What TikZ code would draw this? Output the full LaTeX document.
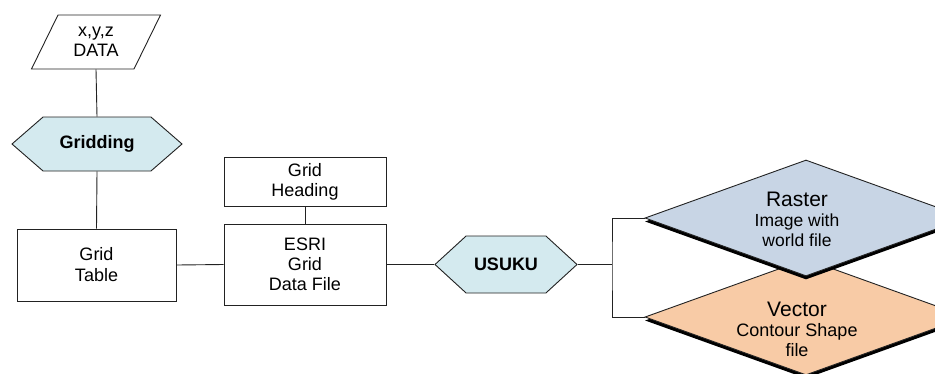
\documentclass[tikz,border=0pt]{standalone}
\usepackage{fontspec}
\setmainfont{Liberation Sans}
\usetikzlibrary{shapes.geometric,shapes.symbols,shadows}
\definecolor{hexfill}{HTML}{D4EAEF}
\definecolor{rasterfill}{HTML}{C8D5E5}
\definecolor{vectorfill}{HTML}{F8CBA6}
\definecolor{edge}{HTML}{222222}
\begin{document}
\begin{tikzpicture}[x=1pt,y=-1pt,
  base/.style={draw=edge, line width=0.9pt, align=center, inner sep=0pt, font=\fontsize{18}{21}\selectfont},
  box/.style={base, rectangle},
  hexa/.style={base, signal, signal to=west and east, fill=hexfill, font=\fontsize{18}{21}\selectfont\bfseries},
  dia/.style={base, diamond, aspect=2.78, minimum width=322pt, minimum height=116pt,
    drop shadow={shadow xshift=0pt, shadow yshift=-3.5pt, fill=black, opacity=1}},
  lbl/.style={align=center, inner sep=0pt, font=\fontsize{21}{20}\selectfont},
  wire/.style={draw=edge, line width=0.9pt}
]
\useasboundingbox (0,0) rectangle (935,373);
\clip (0,0) rectangle (935,373);
\fill[white] (0,0) rectangle (935,373);

% left column
\node[base, trapezium, trapezium left angle=61.8, trapezium right angle=118.2,
      trapezium stretches=true, minimum width=130pt, minimum height=54pt,
      font=\fontsize{18}{20}\selectfont] (data) at (96,42) {x,y,z\\DATA};
\node[hexa, signal pointer angle=82, minimum width=170pt, minimum height=54pt] (grid) at (97,144) {Gridding};
\node[box, minimum width=159pt, minimum height=72pt] (table) at (96.5,265) {Grid\\Table};

% middle column
\node[box, minimum width=162pt, minimum height=49pt, font=\fontsize{18}{20}\selectfont] (heading) at (305,181.5) {Grid\\Heading};
\node[box, minimum width=162pt, minimum height=81pt, font=\fontsize{18}{20}\selectfont] (esri) at (305,264.5) {ESRI\\Grid\\Data File};

% USUKU
\node[hexa, signal pointer angle=85, minimum width=142pt, minimum height=57pt] (usuku) at (506,264.5) {USUKU};

% outputs
\node[dia, fill=vectorfill] (vector) at (806,317) {};
\node[dia, fill=rasterfill] (raster) at (806,218) {};
\node[lbl] (rastertxt) at (797,219.5) {Raster\\{\fontsize{17.5}{20}\selectfont Image with}\\{\fontsize{17.5}{20}\selectfont world file}};
\node[lbl] (vectortxt) at (797,329) {Vector\\{\fontsize{18}{20}\selectfont Contour Shape}\\{\fontsize{18}{20}\selectfont file}};

% connectors
\draw[wire] (data.south) -- (grid.north);
\draw[wire] (grid.south) -- (table.north);
\draw[wire] (table.east) -- (esri.west);
\draw[wire] (heading.south) -- (esri.north);
\draw[wire] (esri.east) -- (usuku.west);
\coordinate (split) at (612,264.5);
\draw[wire] (usuku.east) -- (split);
\draw[wire] (raster.west) -| (split) |- (vector.west);
\end{tikzpicture}
\end{document}
